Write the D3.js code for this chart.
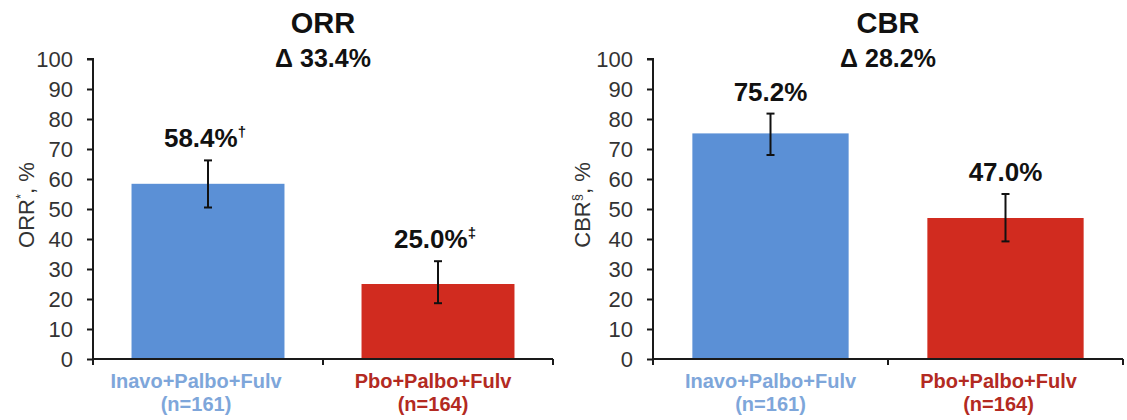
<!DOCTYPE html>
<html>
<head>
<meta charset="utf-8">
<script src="https://cdn.jsdelivr.net/npm/d3@7"></script>
<style>
  html, body { margin: 0; padding: 0; background: #fff; }
  svg { display: block; font-family: "Liberation Sans", Arial, sans-serif; }
</style>
</head>
<body>
<svg id="chart" width="1127" height="420"></svg>
<script>
// ---- data ----
const categories = ["Inavo+Palbo+Fulv", "Pbo+Palbo+Fulv"];
const nLabels = ["(n=161)", "(n=164)"];
const yTicks = [0, 10, 20, 30, 40, 50, 60, 70, 80, 90, 100];

const orrValues = [58.4, 25.0];
const orrLow = [50.5, 18.6];
const orrHigh = [66.2, 32.6];
const orrLabels = ["58.4%", "25.0%"];
const orrMarks = ["\u2020", "\u2021"];

const cbrValues = [75.2, 47.0];
const cbrLow = [68.0, 39.2];
const cbrHigh = [81.8, 55.0];
const cbrLabels = ["75.2%", "47.0%"];
const cbrMarks = ["", ""];

const panelTitles = ["ORR", "CBR"];
const panelDeltas = ["\u0394 33.4%", "\u0394 28.2%"];
const yTitles = [["ORR", "*", ", %"], ["CBR", "\u00a7", ", %"]];

// ---- styling ----
const barColors = ["#5b90d6", "#d12b1f"];
const catColors = ["#7ea6da", "#b32a22"];

const svg = d3.select("#chart");
const y = d3.scaleLinear().domain([0, 100]).range([359, 59]);

const panels = [
  { x0: 93, x1: 553, ytOff: 59, catShift: [-12, -5], values: orrValues, low: orrLow, high: orrHigh, labels: orrLabels, marks: orrMarks },
  { x0: 653, x1: 1123, ytOff: 63, catShift: [0, -7], values: cbrValues, low: cbrLow, high: cbrHigh, labels: cbrLabels, marks: cbrMarks }
];

panels.forEach((p, pi) => {
  const g = svg.append("g");
  const x = d3.scaleBand().domain(categories).range([p.x0, p.x1]).padding(0);
  const bw = x.bandwidth() * 0.665;
  const cx = c => x(c) + x.bandwidth() / 2;
  const data = categories.map((c, i) => ({ c, i, v: p.values[i], lo: p.low[i], hi: p.high[i], lab: p.labels[i], mk: p.marks[i] }));

  // bars
  g.selectAll("rect.bar").data(data).join("rect")
    .attr("class", "bar")
    .attr("x", d => cx(d.c) - bw / 2)
    .attr("width", bw)
    .attr("y", d => y(d.v))
    .attr("height", d => y(0) - y(d.v))
    .attr("fill", d => barColors[d.i]);

  // y axis
  const ya = d3.axisLeft(y).tickValues(yTicks).tickSize(6).tickPadding(14);
  const yg = g.append("g").attr("transform", `translate(${p.x0},0)`).call(ya);
  yg.select(".domain").attr("stroke", "#1a1a1a").attr("stroke-width", 2).attr("d", `M-6,${y(100)}H0V${y(0)}`);
  yg.selectAll(".tick line").attr("stroke", "#1a1a1a").attr("stroke-width", 2);
  yg.selectAll(".tick text").attr("font-size", 22).attr("fill", "#333").attr("font-family", "Liberation Sans, Arial, sans-serif");

  // x axis with ticks at band boundaries
  const bounds = categories.map(c => x(c)).concat([x.range()[1]]);
  g.append("line").attr("x1", p.x0).attr("x2", p.x1).attr("y1", y(0)).attr("y2", y(0))
    .attr("stroke", "#1a1a1a").attr("stroke-width", 2);
  g.selectAll("line.xt").data(bounds).join("line").attr("class", "xt")
    .attr("x1", d => d).attr("x2", d => d).attr("y1", y(0)).attr("y2", y(0) + 6)
    .attr("stroke", "#1a1a1a").attr("stroke-width", 2);

  // error bars
  const eg = g.selectAll("g.err").data(data).join("g").attr("class", "err");
  eg.append("line").attr("x1", d => cx(d.c)).attr("x2", d => cx(d.c))
    .attr("y1", d => y(d.lo)).attr("y2", d => y(d.hi)).attr("stroke", "#111").attr("stroke-width", 2);
  [ "lo", "hi" ].forEach(k => {
    eg.append("line").attr("x1", d => cx(d.c) - 4).attr("x2", d => cx(d.c) + 4)
      .attr("y1", d => y(d[k])).attr("y2", d => y(d[k])).attr("stroke", "#111").attr("stroke-width", 2);
  });

  // value labels
  const vt = g.selectAll("text.val").data(data).join("text").attr("class", "val")
    .attr("x", d => cx(d.c) + (d.mk ? -3 : 0))
    .attr("y", d => y(d.hi) - 13)
    .attr("text-anchor", "middle")
    .attr("font-size", 26).attr("font-weight", "bold").attr("fill", "#111");
  vt.append("tspan").text(d => d.lab);
  vt.filter(d => d.mk).append("tspan").attr("font-size", 15).attr("dy", -10).text(d => d.mk);

  // category labels
  const lx = d => cx(d.c) + p.catShift[d.i];
  const ct = g.selectAll("text.cat").data(data).join("text").attr("class", "cat")
    .attr("x", lx).attr("y", 388)
    .attr("text-anchor", "middle").attr("font-size", 20).attr("font-weight", "bold")
    .attr("fill", d => catColors[d.i]);
  ct.append("tspan").text(d => d.c);
  ct.append("tspan").attr("x", lx).attr("dy", 23).text(d => nLabels[d.i]);

  // titles
  const mid = bounds[1];
  g.append("text").attr("x", mid).attr("y", 33).attr("text-anchor", "middle")
    .attr("font-size", 29).attr("font-weight", "bold").attr("fill", "#111").text(panelTitles[pi]);
  g.append("text").attr("x", mid).attr("y", 67).attr("text-anchor", "middle")
    .attr("font-size", 25).attr("font-weight", "bold").attr("fill", "#111").text(panelDeltas[pi]);

  // y title
  const yt = g.append("text")
    .attr("transform", `translate(${p.x0 - p.ytOff},205) rotate(-90)`)
    .attr("text-anchor", "middle").attr("font-size", 22).attr("fill", "#333");
  yt.append("tspan").text(yTitles[pi][0]);
  yt.append("tspan").attr("font-size", 13).attr("dy", -9).text(yTitles[pi][1]);
  yt.append("tspan").attr("dy", 9).text(yTitles[pi][2]);
});
</script>
</body>
</html>
